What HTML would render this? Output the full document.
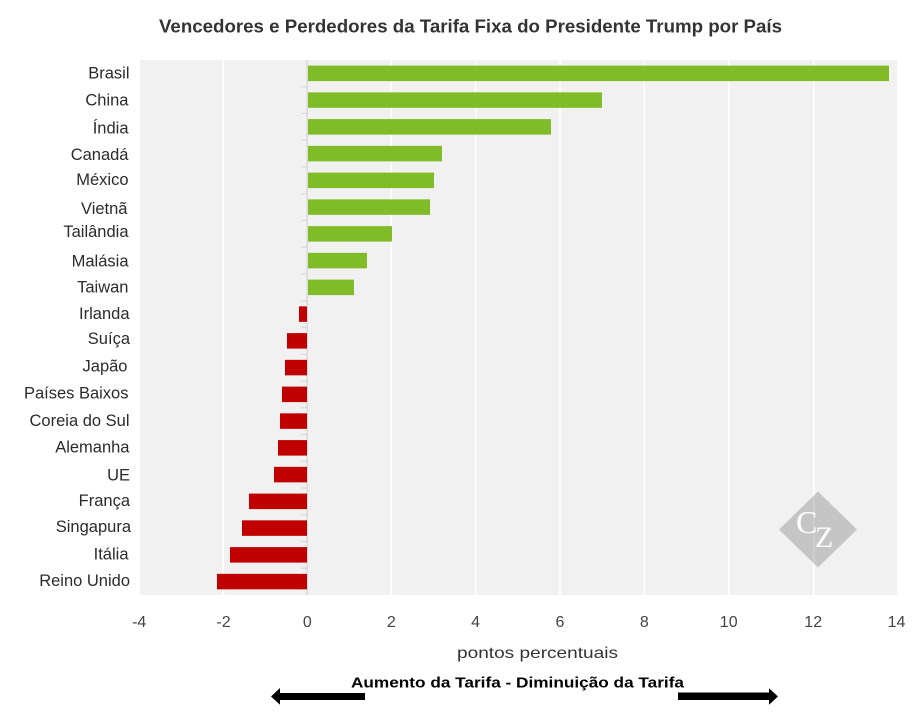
<!DOCTYPE html>
<html>
<head>
<meta charset="utf-8">
<style>
html,body{margin:0;padding:0;background:#fff;}
svg{display:block;}
text{font-family:"Liberation Sans",Arial,sans-serif;}
</style>
</head>
<body>
<svg width="922" height="724" viewBox="0 0 922 724" xmlns="http://www.w3.org/2000/svg">
<rect x="0" y="0" width="922" height="724" fill="#fff"/>
<!-- title -->
<text x="159" y="32.3" font-size="18" font-weight="bold" fill="#333" textLength="623" lengthAdjust="spacingAndGlyphs">Vencedores e Perdedores da Tarifa Fixa do Presidente Trump por País</text>
<!-- plot bg -->
<rect x="140" y="60" width="757" height="535" fill="#f1f1f1"/>
<!-- gridlines -->
<g stroke="#fff" stroke-width="1.6">
<line x1="223.3" y1="60" x2="223.3" y2="595"/>
<line x1="391.3" y1="60" x2="391.3" y2="595"/>
<line x1="475.6" y1="60" x2="475.6" y2="595"/>
<line x1="560" y1="60" x2="560" y2="595"/>
<line x1="644.3" y1="60" x2="644.3" y2="595"/>
<line x1="728.7" y1="60" x2="728.7" y2="595"/>
<line x1="813.7" y1="60" x2="813.7" y2="595"/>
</g>
<!-- watermark -->
<polygon points="779,529.5 818,491.5 857,529.5 818,567.5" fill="#000" fill-opacity="0.18"/>
<text x="796" y="533" font-size="32" fill="#fff" style="font-family:'Liberation Serif',serif">C</text>
<text x="815" y="547" font-size="30" fill="#fff" style="font-family:'Liberation Serif',serif">Z</text>
<!-- zero line + ticks -->
<line x1="307.2" y1="60" x2="307.2" y2="595" stroke="#d9d9d9" stroke-width="1.5"/>
<g stroke="#d9d9d9" stroke-width="1.2">
<line x1="301" y1="86.75" x2="307" y2="86.75"/>
<line x1="301" y1="113.5" x2="307" y2="113.5"/>
<line x1="301" y1="140.25" x2="307" y2="140.25"/>
<line x1="301" y1="167" x2="307" y2="167"/>
<line x1="301" y1="193.75" x2="307" y2="193.75"/>
<line x1="301" y1="220.5" x2="307" y2="220.5"/>
<line x1="301" y1="247.25" x2="307" y2="247.25"/>
<line x1="301" y1="274" x2="307" y2="274"/>
<line x1="301" y1="300.75" x2="307" y2="300.75"/>
<line x1="301" y1="327.5" x2="307" y2="327.5"/>
<line x1="301" y1="354.25" x2="307" y2="354.25"/>
<line x1="301" y1="381" x2="307" y2="381"/>
<line x1="301" y1="407.75" x2="307" y2="407.75"/>
<line x1="301" y1="434.5" x2="307" y2="434.5"/>
<line x1="301" y1="461.25" x2="307" y2="461.25"/>
<line x1="301" y1="488" x2="307" y2="488"/>
<line x1="301" y1="514.75" x2="307" y2="514.75"/>
<line x1="301" y1="541.5" x2="307" y2="541.5"/>
<line x1="301" y1="568.25" x2="307" y2="568.25"/>
</g>
<!-- bars -->
<g fill="#80bc28">
<rect x="308" y="65.6" width="581" height="15.5"/>
<rect x="308" y="92.35" width="294" height="15.5"/>
<rect x="308" y="119.1" width="243" height="15.5"/>
<rect x="308" y="145.85" width="134" height="15.5"/>
<rect x="308" y="172.6" width="126" height="15.5"/>
<rect x="308" y="199.35" width="122" height="15.5"/>
<rect x="308" y="226.1" width="84" height="15.5"/>
<rect x="308" y="252.85" width="59" height="15.5"/>
<rect x="308" y="279.6" width="46" height="15.5"/>
</g>
<g fill="#c00000">
<rect x="299" y="306.35" width="8" height="15.5"/>
<rect x="287" y="333.1" width="20" height="15.5"/>
<rect x="285" y="359.85" width="22" height="15.5"/>
<rect x="282" y="386.6" width="25" height="15.5"/>
<rect x="280" y="413.35" width="27" height="15.5"/>
<rect x="278" y="440.1" width="29" height="15.5"/>
<rect x="274" y="466.85" width="33" height="15.5"/>
<rect x="249" y="493.6" width="58" height="15.5"/>
<rect x="242" y="520.35" width="65" height="15.5"/>
<rect x="230" y="547.1" width="77" height="15.5"/>
<rect x="217" y="573.85" width="90" height="15.5"/>
</g>
<!-- category labels -->
<g font-size="16.5" fill="#2b2b2b" text-anchor="end">
<text x="129.5" y="78.3">Brasil</text>
<text x="128.5" y="105.7">China</text>
<text x="128.5" y="133.3">Índia</text>
<text x="128.5" y="160">Canadá</text>
<text x="128.5" y="185">México</text>
<text x="127.5" y="214">Vietnã</text>
<text x="128.5" y="237">Tailândia</text>
<text x="128.5" y="266.7">Malásia</text>
<text x="128.5" y="292.3">Taiwan</text>
<text x="129.5" y="319">Irlanda</text>
<text x="130" y="344">Suíça</text>
<text x="127.5" y="371.7">Japão</text>
<text x="128.5" y="398.3">Países Baixos</text>
<text x="129.5" y="426">Coreia do Sul</text>
<text x="129.5" y="452.3">Alemanha</text>
<text x="130" y="480.7">UE</text>
<text x="130" y="506">França</text>
<text x="131" y="532">Singapura</text>
<text x="128.5" y="559.3">Itália</text>
<text x="130" y="586">Reino Unido</text>
</g>
<!-- x tick labels -->
<g font-size="16" fill="#444" text-anchor="middle">
<text x="139.2" y="627">-4</text>
<text x="223.5" y="627">-2</text>
<text x="307.3" y="627">0</text>
<text x="391.3" y="627">2</text>
<text x="475.6" y="627">4</text>
<text x="560" y="627">6</text>
<text x="644.3" y="627">8</text>
<text x="728.7" y="627">10</text>
<text x="813.2" y="627">12</text>
<text x="896.5" y="627">14</text>
</g>
<text x="457" y="658" font-size="16" fill="#333" textLength="161" lengthAdjust="spacingAndGlyphs">pontos percentuais</text>
<text x="351" y="687.3" font-size="15" font-weight="bold" fill="#000" textLength="333" lengthAdjust="spacingAndGlyphs">Aumento da Tarifa - Diminuição da Tarifa</text>
<!-- arrows -->
<polygon points="271,696.5 280,688 280,693 365,693 365,700 280,700 280,704.8" fill="#000"/>
<polygon points="678,692.5 769,692.5 769,688.3 778,696.5 769,704.8 769,700 678,700" fill="#000"/>
</svg>
</body>
</html>
